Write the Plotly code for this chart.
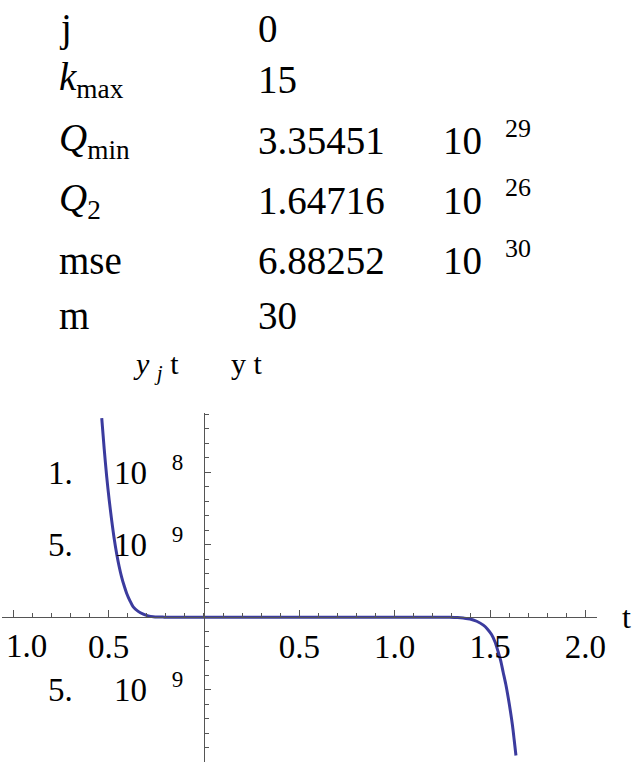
import plotly.graph_objects as go

W, H = 640, 775
L, R, T, B = 2, 43, 413, 13

SERIF = "Liberation Serif, Times New Roman, serif"
CURVE = "#3b3b9e"
AXIS = "#555555"

# summary table shown above the plot
row_labels = ["j", "<i>k</i><sub>max</sub>", "<i>Q</i><sub>min</sub>",
              "<i>Q</i><sub>2</sub>", "mse", "m"]
row_values = ["0", "15", "3.35451", "1.64716", "6.88252", "30"]
row_powers = ["", "", "29", "26", "30", ""]

# error curve y_j(t) - y(t)
t_vals = [-0.536, -0.523, -0.510, -0.497, -0.484, -0.471, -0.458, -0.445,
          -0.432, -0.418, -0.405, -0.388, -0.371, -0.345, -0.318, -0.292,
          -0.266, -0.238, -0.21, -0.15, -0.1, 0.0, 0.3, 0.6, 0.9, 1.1,
          1.2, 1.25, 1.29, 1.33, 1.36, 1.395, 1.43, 1.465, 1.487, 1.508,
          1.526, 1.543, 1.556, 1.569, 1.583, 1.596, 1.607, 1.618, 1.627,
          1.636]
y_vals = [1.375e-8, 1.16e-8, 0.970e-8, 0.81e-8, 0.670e-8, 0.545e-8,
          0.440e-8, 0.352e-8, 0.279e-8, 0.215e-8, 0.164e-8, 0.113e-8,
          0.071e-8, 0.040e-8, 0.021e-8, 0.009e-8, 0.003e-8, 0.001e-8,
          0.0004e-8, 0.0, 0.0, 0.0, 0.0, 0.0, 0.0, 0.0, 0.0, -0.0005e-8,
          -0.001e-8, -0.003e-8, -0.006e-8, -0.012e-8, -0.028e-8,
          -0.055e-8, -0.083e-8, -0.12e-8, -0.17e-8, -0.24e-8, -0.30e-8,
          -0.38e-8, -0.465e-8, -0.56e-8, -0.65e-8, -0.75e-8, -0.85e-8,
          -0.955e-8]

x_ticks = [-1.0, -0.5, 0.5, 1.0, 1.5, 2.0]
# the -1.0 label sits nudged right of its tick (drawn as an annotation below)
x_ticktext = ["", "0.5", "0.5", "1.0", "1.5", "2.0"]
edge_label = "1.0"
y_ticks = [1e-8, 5e-9, -5e-9]
gap = "\u00a0" * 5
sgap = "\u00a0" * 3
y_ticktext = [f"1.{gap}10{sgap}<sup>8</sup>", f"5.{gap}10{sgap}<sup>9</sup>",
              f"5.{gap}10{sgap}<sup>9</sup>"]

x_range = [-1.059, 2.061]
y_range = [-1.0e-8, 1.41e-8]


def px_x(x):
    return (x - L) / (W - L - R)


def px_y(y):
    return (H - B - y) / (H - T - B)


fig = go.Figure()
fig.add_trace(go.Scatter(
    x=t_vals, y=y_vals, mode="lines",
    line=dict(color=CURVE, width=3, shape="spline", smoothing=0.8),
    hoverinfo="skip",
))

annotations = []
row_y = [28, 80, 140, 200, 260, 316]
for lab, val, pw, yy in zip(row_labels, row_values, row_powers, row_y):
    annotations.append(dict(x=px_x(57), y=px_y(yy), text=lab, xanchor="left",
                            yanchor="middle", font=dict(size=39)))
    annotations.append(dict(x=px_x(256), y=px_y(yy), text=val, xanchor="left",
                            yanchor="middle", font=dict(size=39)))
    if pw:
        annotations.append(dict(x=px_x(441), y=px_y(yy), text="10", xanchor="left",
                                yanchor="middle", font=dict(size=39)))
        annotations.append(dict(x=px_x(503), y=px_y(yy - 12), text=pw, xanchor="left",
                                yanchor="middle", font=dict(size=26)))

annotations.append(dict(
    x=px_x(131), y=px_y(366),
    text="<i>y</i> <sub><i>j</i></sub> t" + "\u00a0" * 7 + "y t",
    xanchor="left", yanchor="middle", font=dict(size=30)))
annotations.append(dict(x=px_x(620), y=px_y(617), text="t", xanchor="left",
                        yanchor="middle", font=dict(size=32)))

for a in annotations:
    a.update(xref="paper", yref="paper", showarrow=False)

annotations.append(dict(x=x_ticks[0], y=0, xref="x", yref="y", text=edge_label,
                        showarrow=False, xanchor="center", yanchor="middle",
                        xshift=13, yshift=-29, font=dict(size=33)))

for a in annotations:
    a["font"].update(family=SERIF, color="black")

fig.update_layout(
    width=W, height=H,
    margin=dict(l=L, r=R, t=T, b=B),
    paper_bgcolor="white", plot_bgcolor="white",
    font=dict(family=SERIF, color="black"),
    showlegend=False,
    annotations=annotations,
    xaxis=dict(
        range=x_range, anchor="free", automargin=False,
        position=(0 - y_range[0]) / (y_range[1] - y_range[0]),
        showgrid=False, zeroline=False, showline=True, linecolor=AXIS, linewidth=1,
        tickmode="array", tickvals=x_ticks, ticktext=x_ticktext,
        ticks="inside", ticklen=7, tickcolor=AXIS, tickwidth=1,
        tickfont=dict(size=33, family=SERIF), ticklabelstandoff=0,
        ticklabeloverflow="allow",
        minor=dict(dtick=0.1, tick0=0, ticks="inside", ticklen=4,
                   tickcolor=AXIS, showgrid=False),
    ),
    yaxis=dict(
        range=y_range, anchor="free", automargin=False,
        position=(0 - x_range[0]) / (x_range[1] - x_range[0]),
        showgrid=False, zeroline=False, showline=True, linecolor=AXIS, linewidth=1,
        tickmode="array", tickvals=y_ticks, ticktext=y_ticktext,
        ticks="inside", ticklen=6, tickcolor=AXIS, tickwidth=1,
        tickfont=dict(size=33, family=SERIF), ticklabelstandoff=14,
        ticklabeloverflow="allow",
        minor=dict(dtick=1e-9, tick0=0, ticks="inside", ticklen=4,
                   tickcolor=AXIS, showgrid=False),
    ),
)

# drop the default page margin so the figure sits at the window's corner
fig.write_html("out.html", config={"displayModeBar": False},
               post_script="document.body.style.margin='0';")
